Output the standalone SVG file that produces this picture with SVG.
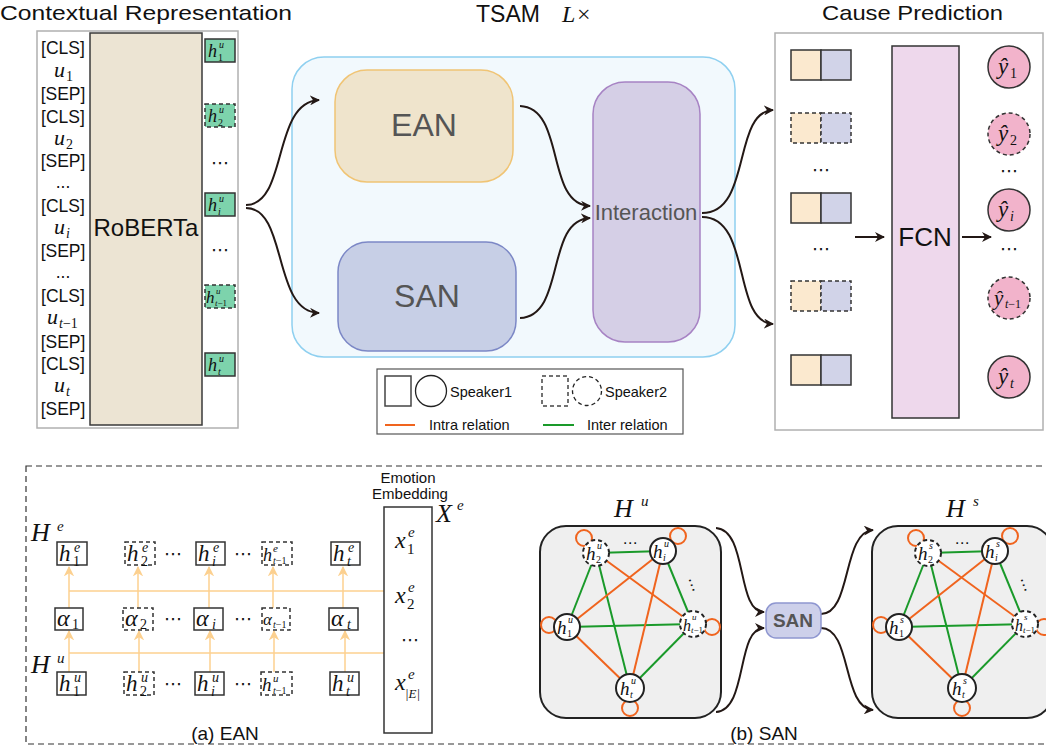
<svg xmlns="http://www.w3.org/2000/svg" width="1046" height="749" viewBox="0 0 1046 749">
<defs>
<style>
.s{font-family:"Liberation Sans",Arial,sans-serif;fill:#111}
.m{font-family:"Liberation Serif","Times New Roman",serif;font-style:italic;fill:#111}
.n{font-family:"Liberation Serif","Times New Roman",serif;font-style:normal;fill:#111}
.tok{font-family:"Liberation Sans",Arial,sans-serif;font-size:17.5px;text-anchor:middle;fill:#111}
.hb{fill:#7dd3ac;stroke:#333;stroke-width:1.5}
.dash{stroke-dasharray:4,3}
.box{fill:#fff;stroke:#333;stroke-width:1.5}
.yel{fill:#fbe9cf;stroke:#333;stroke-width:1.5}
.blu{fill:#d1d3e8;stroke:#333;stroke-width:1.5}
.yh{fill:#f2b3cb;stroke:#333;stroke-width:1.5}
.arr{fill:none;stroke:#231815;stroke-width:2;marker-end:url(#ah)}
.la{fill:none;stroke:#fcd08f;stroke-width:1.5}
.lam{fill:none;stroke:#fcd08f;stroke-width:1.5;marker-end:url(#ahl)}
.or{stroke:#f0641e;stroke-width:2;fill:none}
.gr{stroke:#1a9a2a;stroke-width:2;fill:none}
.nd{fill:#fff;stroke:#222;stroke-width:2}
.dots{font-family:"DejaVu Sans",sans-serif;font-size:18px;fill:#111;text-anchor:middle}
</style>
<marker id="ah" viewBox="0 0 10 10" refX="9" refY="5" markerWidth="5" markerHeight="5" orient="auto" markerUnits="strokeWidth">
<path d="M0,0 L10,5 L0,10 L3,5 z" fill="#231815"/>
</marker>
<marker id="ahl" viewBox="0 0 10 10" refX="9" refY="5" markerWidth="7" markerHeight="7" orient="auto" markerUnits="strokeWidth">
<path d="M0,0 L10,5 L0,10 L3,5 z" fill="#fcd08f"/>
</marker>
</defs>
<rect width="1046" height="749" fill="#fff"/>

<!-- Contextual Representation -->
<g id="contextual">
<text class="s" x="0" y="20" font-size="21" textLength="292" lengthAdjust="spacingAndGlyphs">Contextual Representation</text>
<rect x="37" y="31" width="201" height="397" fill="#fff" stroke="#b0b0b0" stroke-width="1.5"/>
<rect x="90" y="33" width="112" height="392" fill="#ece4d3" stroke="#3a3a3a" stroke-width="1.5"/>
<text class="s" x="146" y="236" font-size="24" text-anchor="middle">RoBERTa</text>
<text class="tok" x="63" y="54">[CLS]</text>
<text class="m" x="54" y="77" font-size="22">u</text><text class="n" x="66" y="81" font-size="14">1</text>
<text class="tok" x="63" y="100">[SEP]</text>
<text class="tok" x="63" y="123">[CLS]</text>
<text class="m" x="54" y="145" font-size="22">u</text><text class="n" x="66" y="149" font-size="14">2</text>
<text class="tok" x="63" y="167">[SEP]</text>
<text class="tok" x="63" y="188">...</text>
<text class="tok" x="63" y="212">[CLS]</text>
<text class="m" x="54" y="234" font-size="22">u</text><text class="m" x="66" y="238" font-size="14">i</text>
<text class="tok" x="63" y="257">[SEP]</text>
<text class="tok" x="63" y="278">...</text>
<text class="tok" x="63" y="302">[CLS]</text>
<text class="m" x="47" y="324" font-size="22">u</text><text class="m" x="59" y="328" font-size="14">t<tspan class="n">−1</tspan></text>
<text class="tok" x="63" y="348">[SEP]</text>
<text class="tok" x="63" y="370">[CLS]</text>
<text class="m" x="54" y="392" font-size="22">u</text><text class="m" x="66" y="396" font-size="14">t</text>
<text class="tok" x="63" y="415">[SEP]</text>

<rect class="hb" x="205" y="39" width="30" height="23"/>
<text class="m" x="208" y="57" font-size="18">h</text><text class="m" x="219" y="48" font-size="10">u</text><text class="n" x="218" y="61" font-size="10">1</text>
<rect class="hb dash" x="205" y="104" width="30" height="23"/>
<text class="m" x="208" y="122" font-size="18">h</text><text class="m" x="219" y="113" font-size="10">u</text><text class="n" x="218" y="126" font-size="10">2</text>
<text class="dots" x="220" y="169">⋯</text>
<rect class="hb" x="205" y="193" width="30" height="23"/>
<text class="m" x="208" y="211" font-size="18">h</text><text class="m" x="219" y="202" font-size="10">u</text><text class="m" x="218" y="215" font-size="10">i</text>
<text class="dots" x="220" y="256">⋯</text>
<rect class="hb dash" x="205" y="285" width="30" height="23"/>
<text class="m" x="206" y="303" font-size="17">h</text><text class="m" x="216" y="294" font-size="9">u</text><text class="m" x="215" y="306" font-size="9">t<tspan class="n">−1</tspan></text>
<rect class="hb" x="205" y="353" width="30" height="23"/>
<text class="m" x="208" y="371" font-size="18">h</text><text class="m" x="219" y="362" font-size="10">u</text><text class="m" x="218" y="375" font-size="10">t</text>
</g>

<!-- TSAM -->
<g id="tsam">
<text class="s" x="476" y="22" font-size="23">TSAM</text>
<text class="m" x="562" y="22" font-size="24">L</text><text class="n" x="577" y="22" font-size="24">×</text>
<rect x="292" y="57" width="443" height="300" rx="32" fill="#f2f9fd" stroke="#8fd0f0" stroke-width="1.5"/>
</g>
<g id="ean">
<rect x="335" y="70" width="178" height="112" rx="32" fill="#efe4cc" stroke="#f0c474" stroke-width="1.5"/>
<text class="s" x="424" y="136" font-size="32" text-anchor="middle" style="fill:#555">EAN</text>
</g>
<g id="san">
<rect x="338" y="242" width="178" height="109" rx="30" fill="#c7cfe6" stroke="#7c88c6" stroke-width="1.5"/>
<text class="s" x="427" y="307" font-size="32" text-anchor="middle" style="fill:#555">SAN</text>
</g>
<g id="interaction">
<rect x="593" y="82" width="107" height="260" rx="32" fill="#d5cfe6" stroke="#a783c4" stroke-width="1.5"/>
<text class="s" x="646" y="220" font-size="22" text-anchor="middle" style="fill:#555">Interaction</text>
</g>

<!-- Cause Prediction -->
<g id="cause">
<text class="s" x="822" y="20" font-size="21" textLength="181" lengthAdjust="spacingAndGlyphs">Cause Prediction</text>
<rect x="775" y="33" width="268" height="397" fill="#fff" stroke="#b0b0b0" stroke-width="1.5"/>
<rect class="yel" x="791" y="50" width="30" height="30"/><rect class="blu" x="821" y="50" width="30" height="30"/>
<rect class="yel dash" x="791" y="113" width="30" height="30"/><rect class="blu dash" x="821" y="113" width="30" height="30"/>
<text class="dots" x="821" y="176">⋯</text>
<rect class="yel" x="791" y="193" width="30" height="30"/><rect class="blu" x="821" y="193" width="30" height="30"/>
<text class="dots" x="821" y="255">⋯</text>
<rect class="yel dash" x="791" y="281" width="30" height="30"/><rect class="blu dash" x="821" y="281" width="30" height="30"/>
<rect class="yel" x="791" y="355" width="30" height="30"/><rect class="blu" x="821" y="355" width="30" height="30"/>
<rect x="892" y="46" width="67" height="372" fill="#eed8ec" stroke="#333" stroke-width="1.5"/>
<text class="s" x="925" y="246" font-size="26" text-anchor="middle">FCN</text>
<circle class="yh" cx="1009" cy="67" r="21"/>
<text class="m" x="998" y="74" font-size="23">ŷ</text><text class="n" x="1010" y="78" font-size="14">1</text>
<circle class="yh dash" cx="1009" cy="134" r="21"/>
<text class="m" x="998" y="141" font-size="23">ŷ</text><text class="n" x="1010" y="145" font-size="14">2</text>
<text class="dots" x="1009" y="177">⋯</text>
<circle class="yh" cx="1009" cy="210" r="21"/>
<text class="m" x="998" y="217" font-size="23">ŷ</text><text class="m" x="1010" y="221" font-size="14">i</text>
<text class="dots" x="1009" y="255">⋯</text>
<circle class="yh dash" cx="1009" cy="298" r="21"/>
<text class="m" x="994" y="305" font-size="21">ŷ</text><text class="m" x="1005" y="308" font-size="12">t<tspan class="n">−1</tspan></text>
<circle class="yh" cx="1009" cy="377" r="21"/>
<text class="m" x="998" y="384" font-size="23">ŷ</text><text class="m" x="1010" y="388" font-size="14">t</text>
</g>

<!-- Legend -->
<g id="legend">
<rect x="377" y="369" width="306" height="65" fill="#fff" stroke="#555" stroke-width="1.2"/>
<rect x="385" y="376" width="26" height="30" fill="#fff" stroke="#444" stroke-width="1.5"/>
<circle cx="431" cy="391" r="15.5" fill="#fff" stroke="#222" stroke-width="1.3"/>
<text class="s" x="450" y="397" font-size="14.5">Speaker1</text>
<rect x="542" y="376" width="26" height="30" fill="#fff" stroke="#444" stroke-width="1.5" stroke-dasharray="4,3"/>
<circle cx="587" cy="391" r="14.5" fill="#fff" stroke="#222" stroke-width="1.3" stroke-dasharray="4,3"/>
<text class="s" x="605" y="397" font-size="14.5">Speaker2</text>
<line x1="385" y1="425" x2="415" y2="425" stroke="#f0641e" stroke-width="2"/>
<text class="s" x="429" y="430" font-size="14.5">Intra relation</text>
<line x1="543" y1="425" x2="574" y2="425" stroke="#1a9a2a" stroke-width="2"/>
<text class="s" x="587" y="430" font-size="14.5">Inter relation</text>
</g>

<!-- connectors -->
<g id="connectors">
<path class="arr" d="M246,205 C288,205 272,102 319,100"/>
<path class="arr" d="M246,208 C288,208 272,312 319,313"/>
<path class="arr" d="M520,106 C566,108 545,205 590,206"/>
<path class="arr" d="M520,318 C566,316 545,220 590,218"/>
<path class="arr" d="M702,213 C752,213 732,112 773,110"/>
<path class="arr" d="M702,217 C752,217 732,322 773,324"/>
<line class="arr" x1="855" y1="237" x2="884" y2="237"/>
<line class="arr" x1="962" y1="237" x2="991" y2="237"/>
<path class="arr" d="M716,528 C748,530 736,612 764,612"/>
<path class="arr" d="M716,712 C748,710 736,628 764,628"/>
<path class="arr" d="M821,614 C852,614 842,532 873,530"/>
<path class="arr" d="M821,628 C852,628 842,708 873,710"/>
<line class="la" x1="69" y1="591" x2="384" y2="591"/>
<line class="la" x1="69" y1="653" x2="384" y2="653"/>
<line class="lam" x1="69" y1="608" x2="69" y2="567"/>
<line class="lam" x1="138" y1="608" x2="138" y2="567"/>
<line class="lam" x1="209" y1="608" x2="209" y2="567"/>
<line class="lam" x1="273" y1="608" x2="273" y2="567"/>
<line class="lam" x1="343" y1="608" x2="343" y2="567"/>
<line class="lam" x1="69" y1="672" x2="69" y2="631"/>
<line class="lam" x1="139" y1="672" x2="139" y2="631"/>
<line class="lam" x1="210" y1="672" x2="210" y2="631"/>
<line class="lam" x1="274" y1="672" x2="274" y2="631"/>
<line class="lam" x1="345" y1="672" x2="345" y2="631"/>
</g>

<!-- bottom panel -->
<g id="bottom-frame">
<rect x="26" y="466" width="1040" height="278" fill="none" stroke="#333" stroke-width="1.2" stroke-dasharray="6,4"/>
<text class="s" x="225" y="740" font-size="19" text-anchor="middle">(a) EAN</text>
<text class="s" x="764" y="740" font-size="19" text-anchor="middle">(b) SAN</text>
</g>

<g id="ean-detail">
<text class="m" x="31" y="541" font-size="26">H</text><text class="m" x="57" y="531" font-size="15">e</text>
<text class="m" x="31" y="673" font-size="26">H</text><text class="m" x="57" y="663" font-size="15">u</text>
<rect class="box" x="57" y="542" width="30" height="23"/>
<text class="m" x="59" y="561" font-size="23">h</text><text class="m" x="74" y="552" font-size="14">e</text><text class="n" x="73" y="566" font-size="14">1</text>
<rect class="box dash" x="125" y="542" width="30" height="23"/>
<text class="m" x="127" y="561" font-size="23">h</text><text class="m" x="142" y="552" font-size="14">e</text><text class="n" x="141" y="566" font-size="14">2</text>
<text class="dots" x="173" y="560">⋯</text>
<rect class="box" x="196" y="542" width="29" height="23"/>
<text class="m" x="198" y="561" font-size="23">h</text><text class="m" x="213" y="552" font-size="14">e</text><text class="m" x="212" y="566" font-size="14">i</text>
<text class="dots" x="243" y="560">⋯</text>
<rect class="box dash" x="262" y="542" width="30" height="23"/>
<text class="m" x="263" y="561" font-size="18">h</text><text class="m" x="273" y="552" font-size="11">e</text><text class="m" x="273" y="564" font-size="10">t<tspan class="n">−1</tspan></text>
<rect class="box" x="331" y="542" width="29" height="23"/>
<text class="m" x="333" y="561" font-size="23">h</text><text class="m" x="348" y="552" font-size="14">e</text><text class="m" x="347" y="566" font-size="14">t</text>
<rect class="box" x="55" y="608" width="28" height="22"/>
<text class="m" x="57" y="626" font-size="24">α</text><text class="n" x="72" y="629" font-size="14">1</text>
<rect class="box dash" x="123" y="608" width="30" height="22"/>
<text class="m" x="125" y="626" font-size="24">α</text><text class="n" x="140" y="629" font-size="14">2</text>
<text class="dots" x="173" y="625">⋯</text>
<rect class="box" x="194" y="608" width="29" height="22"/>
<text class="m" x="196" y="626" font-size="24">α</text><text class="m" x="212" y="629" font-size="14">i</text>
<text class="dots" x="243" y="625">⋯</text>
<rect class="box dash" x="262" y="608" width="28" height="22"/>
<text class="m" x="263" y="625" font-size="17">α</text><text class="m" x="273" y="628" font-size="10">t<tspan class="n">−1</tspan></text>
<rect class="box" x="329" y="608" width="29" height="22"/>
<text class="m" x="331" y="626" font-size="24">α</text><text class="m" x="347" y="629" font-size="14">t</text>
<rect class="box" x="57" y="672" width="29" height="23"/>
<text class="m" x="59" y="691" font-size="23">h</text><text class="m" x="74" y="682" font-size="14">u</text><text class="n" x="73" y="696" font-size="14">1</text>
<rect class="box dash" x="124" y="672" width="30" height="23"/>
<text class="m" x="126" y="691" font-size="23">h</text><text class="m" x="141" y="682" font-size="14">u</text><text class="n" x="140" y="696" font-size="14">2</text>
<text class="dots" x="173" y="690">⋯</text>
<rect class="box" x="195" y="672" width="29" height="23"/>
<text class="m" x="197" y="691" font-size="23">h</text><text class="m" x="212" y="682" font-size="14">u</text><text class="m" x="211" y="696" font-size="14">i</text>
<text class="dots" x="243" y="690">⋯</text>
<rect class="box dash" x="261" y="672" width="31" height="23"/>
<text class="m" x="262" y="691" font-size="19">h</text><text class="m" x="273" y="682" font-size="11">u</text><text class="m" x="273" y="694" font-size="10">t<tspan class="n">−1</tspan></text>
<rect class="box" x="330" y="672" width="29" height="23"/>
<text class="m" x="332" y="691" font-size="23">h</text><text class="m" x="347" y="682" font-size="14">u</text><text class="m" x="346" y="696" font-size="14">t</text>
</g>

<g id="emotion-embedding">
<text class="s" x="408" y="483" font-size="15" text-anchor="middle">Emotion</text>
<text class="s" x="410" y="499" font-size="15" text-anchor="middle">Embedding</text>
<text class="m" x="436" y="522" font-size="26">X</text><text class="m" x="457" y="510" font-size="15">e</text>
<rect x="384" y="507" width="48" height="226" fill="#fff" stroke="#333" stroke-width="1.5"/>
<text class="m" x="395" y="548" font-size="24">x</text><text class="m" x="408" y="537" font-size="15">e</text><text class="n" x="407" y="554" font-size="15">1</text>
<text class="m" x="395" y="603" font-size="24">x</text><text class="m" x="408" y="592" font-size="15">e</text><text class="n" x="407" y="609" font-size="15">2</text>
<text class="dots" x="410" y="646">⋯</text>
<text class="m" x="395" y="690" font-size="24">x</text><text class="m" x="408" y="679" font-size="15">e</text><text class="m" x="405" y="698" font-size="13">|E|</text>
</g>

<g id="graph-hu">
<text class="m" x="614" y="517" font-size="26">H</text><text class="m" x="641" y="506" font-size="15">u</text>
<rect x="540" y="526" width="181" height="192" rx="26" fill="#efefef" stroke="#222" stroke-width="2"/>
<circle class="or" cx="584" cy="538" r="8" stroke-width="1.5"/>
<circle class="or" cx="678" cy="536" r="8" stroke-width="1.5"/>
<circle class="or" cx="549" cy="625" r="8" stroke-width="1.5"/>
<circle class="or" cx="712" cy="627" r="8" stroke-width="1.5"/>
<circle class="or" cx="630" cy="708" r="8" stroke-width="1.5"/>
<line class="gr" x1="596" y1="553" x2="663" y2="551"/>
<line class="gr" x1="596" y1="553" x2="567" y2="627"/>
<line class="gr" x1="596" y1="553" x2="630" y2="688"/>
<line class="gr" x1="663" y1="551" x2="693" y2="624"/>
<line class="gr" x1="567" y1="627" x2="693" y2="624"/>
<line class="gr" x1="693" y1="624" x2="630" y2="688"/>
<line class="or" x1="567" y1="627" x2="663" y2="551"/>
<line class="or" x1="596" y1="553" x2="693" y2="624"/>
<line class="or" x1="663" y1="551" x2="630" y2="688"/>
<line class="or" x1="567" y1="627" x2="630" y2="688"/>
<text class="dots" x="630" y="548" style="font-size:15px">⋯</text>
<text class="dots" x="692" y="590" transform="rotate(70 692 585)" style="font-size:15px">⋯</text>
<circle class="nd dash" cx="596" cy="553" r="13"/>
<circle class="nd" cx="663" cy="551" r="13"/>
<circle class="nd" cx="567" cy="627" r="13"/>
<circle class="nd dash" cx="693" cy="624" r="13"/>
<circle class="nd" cx="630" cy="688" r="14"/>
<text class="m" x="586" y="560" font-size="19">h</text><text class="m" x="597" y="549" font-size="10">u</text><text class="n" x="596" y="563" font-size="10">2</text>
<text class="m" x="653" y="558" font-size="19">h</text><text class="m" x="664" y="547" font-size="10">u</text><text class="m" x="663" y="561" font-size="10">i</text>
<text class="m" x="557" y="634" font-size="19">h</text><text class="m" x="568" y="623" font-size="10">u</text><text class="n" x="567" y="637" font-size="10">1</text>
<text class="m" x="683" y="631" font-size="16">h</text><text class="m" x="692" y="620" font-size="9">u</text><text class="m" x="691" y="633" font-size="9">t<tspan class="n">−1</tspan></text>
<text class="m" x="620" y="695" font-size="19">h</text><text class="m" x="631" y="684" font-size="10">u</text><text class="m" x="630" y="698" font-size="10">t</text>
</g>

<g id="san-small">
<rect x="766" y="603" width="55" height="35" rx="10" fill="#cdd0ea" stroke="#8e96d0" stroke-width="1.5"/>
<text class="s" x="793" y="627" font-size="19" font-weight="bold" text-anchor="middle" style="fill:#555">SAN</text>
</g>

<g id="graph-hs">
<text class="m" x="946" y="517" font-size="26">H</text><text class="m" x="973" y="506" font-size="15">s</text>
<rect x="872" y="526" width="181" height="192" rx="26" fill="#efefef" stroke="#222" stroke-width="2"/>
<circle class="or" cx="916" cy="538" r="8" stroke-width="1.5"/>
<circle class="or" cx="1010" cy="536" r="8" stroke-width="1.5"/>
<circle class="or" cx="881" cy="625" r="8" stroke-width="1.5"/>
<circle class="or" cx="1044" cy="627" r="8" stroke-width="1.5"/>
<circle class="or" cx="962" cy="708" r="8" stroke-width="1.5"/>
<line class="gr" x1="928" y1="553" x2="995" y2="551"/>
<line class="gr" x1="928" y1="553" x2="899" y2="627"/>
<line class="gr" x1="928" y1="553" x2="962" y2="688"/>
<line class="gr" x1="995" y1="551" x2="1025" y2="624"/>
<line class="gr" x1="899" y1="627" x2="1025" y2="624"/>
<line class="gr" x1="1025" y1="624" x2="962" y2="688"/>
<line class="or" x1="899" y1="627" x2="995" y2="551"/>
<line class="or" x1="928" y1="553" x2="1025" y2="624"/>
<line class="or" x1="995" y1="551" x2="962" y2="688"/>
<line class="or" x1="899" y1="627" x2="962" y2="688"/>
<text class="dots" x="962" y="548" style="font-size:15px">⋯</text>
<text class="dots" x="1024" y="590" transform="rotate(70 1024 585)" style="font-size:15px">⋯</text>
<circle class="nd dash" cx="928" cy="553" r="13"/>
<circle class="nd" cx="995" cy="551" r="13"/>
<circle class="nd" cx="899" cy="627" r="13"/>
<circle class="nd dash" cx="1025" cy="624" r="13"/>
<circle class="nd" cx="962" cy="688" r="14"/>
<text class="m" x="918" y="560" font-size="19">h</text><text class="m" x="929" y="549" font-size="10">s</text><text class="n" x="928" y="563" font-size="10">2</text>
<text class="m" x="985" y="558" font-size="19">h</text><text class="m" x="996" y="547" font-size="10">s</text><text class="m" x="995" y="561" font-size="10">i</text>
<text class="m" x="889" y="634" font-size="19">h</text><text class="m" x="900" y="623" font-size="10">s</text><text class="n" x="899" y="637" font-size="10">1</text>
<text class="m" x="1015" y="631" font-size="16">h</text><text class="m" x="1024" y="620" font-size="9">s</text><text class="m" x="1023" y="633" font-size="9">t<tspan class="n">−1</tspan></text>
<text class="m" x="952" y="695" font-size="19">h</text><text class="m" x="963" y="684" font-size="10">s</text><text class="m" x="962" y="698" font-size="10">t</text>
</g>
</svg>
